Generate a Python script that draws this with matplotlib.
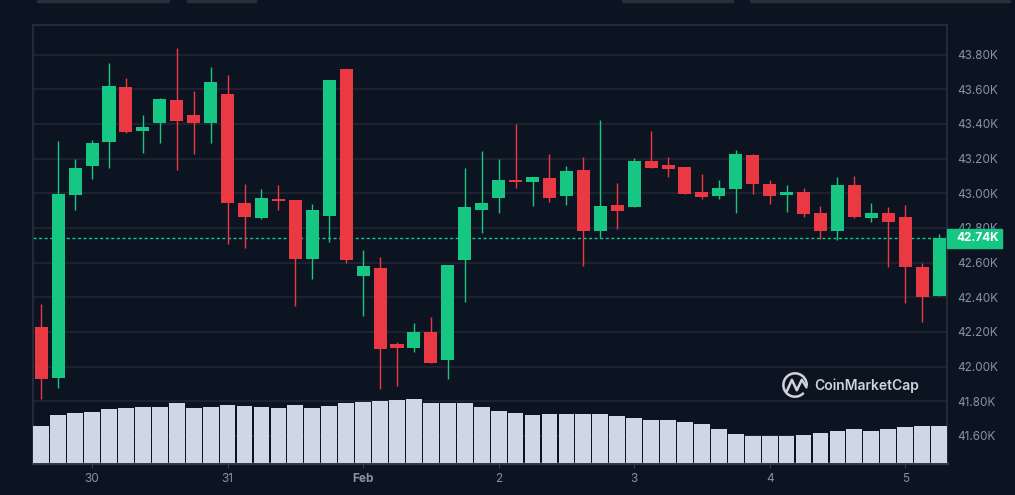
import numpy as np
import pandas as pd
import matplotlib
matplotlib.use("Agg")
import matplotlib.pyplot as plt
from matplotlib.patches import Rectangle, Arc
from matplotlib.transforms import blended_transform_factory

plt.rcParams["font.family"] = ["Inter", "DejaVu Sans"]

# BTC / USD, 3h candles, prices in thousands of USD
times = pd.date_range("2024-01-29 15:00", periods=54, freq="3h")

opens = [42.229, 41.937, 42.992, 43.160, 43.298, 43.613, 43.362, 43.408, 43.538, 43.452,
         43.408, 43.573, 42.944, 42.858, 42.967, 42.962, 42.621, 42.869, 43.717, 42.523,
         42.569, 42.131, 42.108, 42.200, 42.038, 42.615, 42.904, 42.973, 43.077, 43.065,
         43.088, 42.985, 43.135, 42.783, 42.933, 42.921, 43.187, 43.163, 43.152, 43.008,
         42.985, 43.025, 43.221, 43.054, 42.990, 43.008, 42.887, 42.783, 43.048, 42.858,
         42.887, 42.863, 42.575, 42.408]
highs = [42.362, 43.302, 43.198, 43.308, 43.752, 43.665, 43.452, 43.550, 43.838, 43.590,
         43.729, 43.683, 43.054, 43.025, 43.048, 42.962, 42.938, 43.654, 43.717, 42.673,
         42.633, 42.142, 42.252, 42.287, 42.587, 43.146, 43.244, 43.198, 43.400, 43.094,
         43.227, 43.158, 43.210, 43.423, 43.060, 43.204, 43.360, 43.210, 43.152, 43.112,
         43.077, 43.250, 43.227, 43.077, 43.048, 43.031, 42.927, 43.094, 43.100, 42.944,
         42.921, 42.933, 42.598, 42.765]
lows = [41.815, 41.879, 42.906, 43.085, 43.148, 43.350, 43.235, 43.292, 43.137, 43.229,
        43.292, 42.710, 42.687, 42.854, 42.906, 42.352, 42.508, 42.721, 42.600, 42.292,
        41.871, 41.888, 42.085, 42.021, 41.929, 42.373, 42.771, 42.887, 43.031, 42.927,
        42.950, 42.933, 42.581, 42.742, 42.794, 42.921, 43.146, 43.094, 42.996, 42.967,
        42.967, 42.887, 42.996, 42.938, 42.892, 42.863, 42.737, 42.731, 42.858, 42.835,
        42.575, 42.367, 42.258, 42.408]
closes = [41.929, 42.996, 43.146, 43.290, 43.619, 43.356, 43.381, 43.544, 43.419, 43.408,
          43.642, 42.946, 42.863, 42.973, 42.956, 42.621, 42.904, 43.654, 42.615, 42.581,
          42.102, 42.108, 42.200, 42.021, 42.587, 42.921, 42.944, 43.077, 43.065, 43.094,
          42.973, 43.129, 42.783, 42.927, 42.898, 43.187, 43.146, 43.140, 42.996, 42.979,
          43.031, 43.227, 43.054, 42.985, 43.008, 42.881, 42.783, 43.048, 42.863, 42.887,
          42.835, 42.575, 42.402, 42.740]
# volume, arbitrary units
volumes = [11.0, 14.3, 14.9, 15.2, 16.1, 16.4, 16.7, 16.7, 17.9, 16.4,
           16.7, 17.3, 17.0, 16.7, 16.4, 17.3, 16.4, 17.0, 17.9, 18.2,
           18.5, 18.8, 19.1, 17.9, 17.9, 17.9, 16.7, 15.5, 14.9, 14.3,
           14.6, 14.6, 14.6, 14.6, 14.0, 13.4, 12.8, 12.8, 12.2, 11.6,
           10.1, 8.6, 8.0, 8.0, 8.0, 8.3, 8.9, 9.5, 10.1, 9.5,
           10.1, 10.7, 11.0, 11.0]
last_price = 42.74

BG = "#0d1421"
UP = "#16c784"
DOWN = "#ea3943"
GRID = "#222531"
TXT = "#8a90a6"

o = np.array(opens)
c = np.array(closes)
x = np.arange(len(times))
cols = [UP if cc >= oo else DOWN for oo, cc in zip(o, c)]

fig = plt.figure(figsize=(10.15, 4.95), dpi=100, facecolor=BG)
ax = fig.add_axes([0.0328, 0.0646, 0.8999, 0.8849], facecolor=BG)

# volume on twin axis (made first so the price axis keeps its right-hand labels)
vax = ax.twinx()
vax.bar(x, volumes, width=0.93, color="#cfd6e4", zorder=2)
vax.set_ylim(0, 131.4)
vax.set_yticks([])
for s in vax.spines.values():
    s.set_visible(False)

ax.set_axisbelow(True)
ax.grid(axis="y", color=GRID, lw=1.2)
ticks = np.arange(41.6, 43.81, 0.2)
ax.set_yticks(ticks)
ax.set_yticklabels([f"{v:.2f}K" for v in ticks])
ax.set_ylim(41.444, 43.971)
ax.set_xlim(-0.47, 53.45)

ax.axhline(last_price, color=UP, lw=1.0, ls=(0, (2.2, 1.8)), zorder=1)
ax.vlines(x, lows, highs, colors=cols, lw=1.0, zorder=2)
ax.bar(x, np.maximum(np.abs(c - o), 0.006), bottom=np.minimum(o, c), width=0.77,
       color=cols, zorder=3)

ax.yaxis.tick_right()
ax.tick_params(axis="y", which="both", left=False, labelleft=False, right=False,
               labelright=True, length=0, pad=7.5, labelsize=8.5, labelcolor=TXT)
ax.tick_params(axis="x", length=3.5, width=0.8, color="#3a3f50", pad=4,
               labelsize=8.5, labelcolor=TXT)

day_idx = [i for i, t in enumerate(times) if t.hour == 0]
day_lab = [times[i].strftime("%b") if times[i].day == 1 else str(times[i].day) for i in day_idx]
ax.set_xticks(day_idx)
ax.set_xticklabels(day_lab)
for lab in ax.get_xticklabels():
    if not lab.get_text().isdigit():
        lab.set_fontweight("bold")

for s in ax.spines.values():
    s.set_color("#2b2f3d")
    s.set_linewidth(1.2)
ax.spines["bottom"].set_color("#363a4a")
ax.spines["bottom"].set_linewidth(2)

# last price tag
tr = blended_transform_factory(ax.transAxes, ax.transData)
vax.add_patch(Rectangle((1.0, last_price - 0.054), 0.0605, 0.108,
                        transform=tr, color=UP, clip_on=False, zorder=10))
vax.text(1.0108, last_price, f"{last_price:.2f}K", transform=tr, color="white",
         fontsize=8.5, fontweight="bold", va="center", ha="left", zorder=11)

# watermark
lax = fig.add_axes([0.7695, 0.1939, 0.0276, 0.0566])
lax.set_xlim(-1.2, 1.2)
lax.set_ylim(-1.2, 1.2)
lax.axis("off")
lax.add_patch(Arc((0, 0), 2, 2, theta1=-5, theta2=318, color="#cfd3dc", lw=1.8))
lax.plot([-0.70, -0.27, 0.15, 0.58, 0.98], [-0.52, 0.45, -0.45, 0.45, -0.2],
         color="#cfd3dc", lw=1.8, solid_joinstyle="round", solid_capstyle="round")
fig.text(0.802, 0.2208, "CoinMarketCap", color="#cfd3dc", fontsize=10,
         fontweight="semibold", va="center", ha="left")

# tab edges at the very top
for x0, x1 in [(37, 169), (187, 256), (622, 733), (750, 1010)]:
    fig.patches.append(Rectangle((x0 / 1015, 1 - 2 / 495), (x1 - x0) / 1015, 2 / 495,
                                 transform=fig.transFigure, color="#2a2e3b"))

fig.savefig("out.png", dpi=100, facecolor=BG)
